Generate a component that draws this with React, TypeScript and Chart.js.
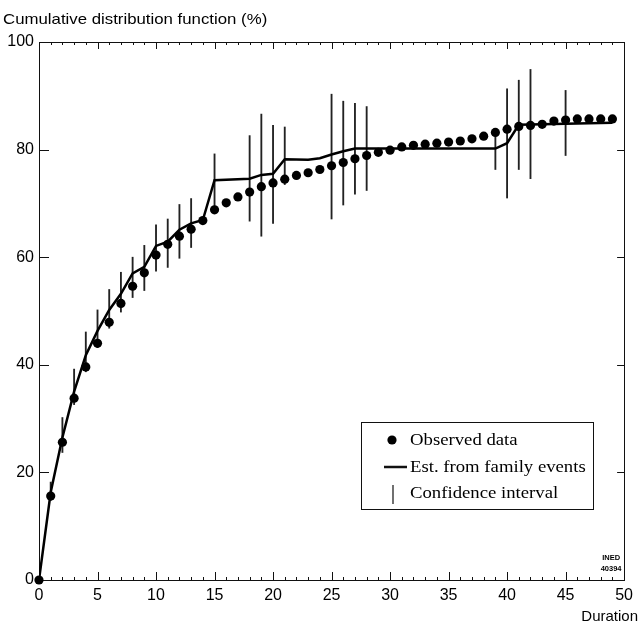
import React, { useEffect, useRef } from 'react';
import { Chart, registerables } from 'chart.js';
Chart.register(...registerables);

const titleText = 'Cumulative distribution function (%)';
const xAxisTitle = 'Duration';
const legendLabels = ['Observed data', 'Est. from family events', 'Confidence interval'];
const stampLines = ['INED', '40394'];

const obsX = [0,1,2,3,4,5,6,7,8,9,10,11,12,13,14,15,16,17,18,19,20,21,22,23,24,25,26,27,28,29,30,31,32,33,34,35,36,37,38,39,40,41,42,43,44,45,46,47,48,49];
const obsY = [0,15.6,25.6,33.8,39.6,44.0,47.9,51.4,54.6,57.1,60.4,62.4,63.9,65.2,66.8,68.8,70.1,71.2,72.1,73.1,73.8,74.5,75.2,75.7,76.3,77.0,77.6,78.3,78.9,79.5,79.9,80.5,80.8,81.0,81.2,81.4,81.6,82.0,82.5,83.2,83.8,84.3,84.5,84.7,85.3,85.5,85.7,85.7,85.7,85.7];

const estX = [0,1,2,3,4,5,6,7,8,9,10,11,12,13,14,15,18,19,20,21,23,24,25,26,27,39,40,41,49];
const estY = [0,16.3,26.5,35.0,41.8,46.3,50.2,53.2,57.0,58.2,62.1,62.9,65.1,66.3,66.9,74.3,74.6,75.3,75.5,78.2,78.1,78.4,79.1,79.7,80.2,80.2,81.2,84.6,85.0];

const ciX = [1,2,3,4,5,6,7,8,9,10,11,12,13,15,18,19,20,21,25,26,27,28,39,40,41,42,45];
const ciLo = [14.8,23.7,32.6,38.7,43.2,46.8,49.8,52.5,53.8,57.4,58.1,59.8,61.8,68.9,66.7,63.9,66.3,73.5,67.1,69.7,71.7,72.4,76.3,71.0,76.3,74.6,78.9];
const ciHi = [18.2,30.2,39.2,46.1,50.2,54.0,57.2,60.0,62.2,66.0,67.1,69.8,70.9,79.2,82.6,86.6,84.5,84.2,90.3,89.0,88.6,88.0,83.8,91.3,92.9,94.9,91.0];

const xMin = 0, xMax = 50, xStep = 5;
const yMin = 0, yMax = 100, yStep = 20;

const SANS = "'Liberation Sans', Arial, sans-serif";
const SERIF = "'Liberation Serif', 'Times New Roman', serif";

const decorPlugin = {
  id: 'decor',
  beforeDatasetsDraw(chart: any) {
    const ctx = chart.ctx;
    const { left, right, top, bottom } = chart.chartArea;
    const xs = chart.scales.x, ys = chart.scales.y;
    ctx.save();
    ctx.strokeStyle = '#111';
    ctx.lineWidth = 1;
    const line = (a: number, b: number, c: number, d: number) => {
      ctx.beginPath(); ctx.moveTo(a, b); ctx.lineTo(c, d); ctx.stroke();
    };
    for (let v = xMin; v <= xMax; v++) {
      const px = Math.round(xs.getPixelForValue(v)) + 0.5;
      const major = v % xStep === 0;
      line(px, bottom, px, bottom - (major ? 8 : 3));
      line(px, top, px, top + (major ? 7 : 3));
    }
    for (let v = yMin + yStep; v < yMax; v += yStep) {
      const py = Math.round(ys.getPixelForValue(v)) + 0.5;
      line(left, py, left + 10, py);
      line(right, py, right - 7, py);
    }
    ctx.strokeRect(Math.round(left) + 0.5, Math.round(top) + 0.5, Math.round(right - left), Math.round(bottom - top));
    ctx.restore();
  },
  afterDraw(chart: any) {
    const ctx = chart.ctx;
    const { right, bottom } = chart.chartArea;
    ctx.save();
    ctx.fillStyle = '#000';
    ctx.font = `15px ${SANS}`;
    ctx.textBaseline = 'alphabetic';
    ctx.textAlign = 'left';
    ctx.save();
    ctx.translate(3, 24);
    ctx.scale(1.12, 1);
    ctx.fillText(titleText, 0, 0);
    ctx.restore();
    ctx.font = `15px ${SANS}`;
    ctx.textAlign = 'right';
    ctx.fillText(xAxisTitle, 638, 621);
    ctx.font = `bold 7.5px ${SANS}`;
    ctx.textAlign = 'center';
    ctx.fillText(stampLines[0], right - 13, bottom - 20);
    ctx.fillText(stampLines[1], right - 13, bottom - 9);
    const bx = 361.5, by = 422.5, bw = 232, bh = 87;
    ctx.fillStyle = '#fff';
    ctx.fillRect(bx, by, bw, bh);
    ctx.strokeStyle = '#111';
    ctx.lineWidth = 1;
    ctx.strokeRect(bx, by, bw, bh);
    ctx.fillStyle = '#000';
    ctx.beginPath(); ctx.arc(392, 440, 4.6, 0, Math.PI * 2); ctx.fill();
    ctx.lineWidth = 2.5;
    ctx.beginPath(); ctx.moveTo(384, 467); ctx.lineTo(407, 467); ctx.stroke();
    ctx.lineWidth = 1.2;
    ctx.beginPath(); ctx.moveTo(393, 485); ctx.lineTo(393, 504); ctx.stroke();
    ctx.font = `16px ${SERIF}`;
    ctx.textAlign = 'left';
    const rows = [440, 467, 493];
    legendLabels.forEach((t, i) => {
      ctx.save();
      ctx.translate(410, rows[i] + 5);
      ctx.scale(1.17, 1);
      ctx.fillText(t, 0, 0);
      ctx.restore();
    });
    ctx.restore();
  },
};

export default function App() {
  const ref = useRef<HTMLCanvasElement | null>(null);
  useEffect(() => {
    if (!ref.current) return;
    const chart = new Chart(ref.current, {
      type: 'scatter',
      data: {
        datasets: [
          {
            type: 'scatter',
            label: legendLabels[0],
            data: obsX.map((x, i) => ({ x, y: obsY[i] })),
            pointRadius: 4.6,
            pointBackgroundColor: '#000',
            pointBorderWidth: 0,
            backgroundColor: '#000',
            clip: false,
            order: 0,
          } as any,
          {
            type: 'line',
            label: legendLabels[1],
            data: estX.map((x, i) => ({ x, y: estY[i] })),
            borderColor: '#000',
            borderWidth: 2.5,
            pointRadius: 0,
            tension: 0,
            fill: false,
            order: 1,
          } as any,
          {
            type: 'bar',
            label: legendLabels[2],
            data: ciX.map((x, i) => ({ x, y: [ciLo[i], ciHi[i]] })),
            backgroundColor: '#222',
            borderWidth: 0,
            barThickness: 1.2,
            grouped: false,
            order: 2,
          } as any,
        ],
      },
      options: {
        responsive: false,
        animation: false,
        layout: { padding: { left: 0, right: 9, top: 42, bottom: 0 } },
        plugins: { legend: { display: false }, tooltip: { enabled: false }, title: { display: false } },
        scales: {
          x: {
            type: 'linear',
            min: xMin,
            max: xMax,
            offset: false,
            grid: { display: false, drawTicks: false },
            border: { display: false },
            ticks: { stepSize: xStep, color: '#000', font: { family: SANS, size: 16 }, padding: 6, maxRotation: 0 },
            afterFit: (s: any) => { s.height = 43; },
          },
          y: {
            type: 'linear',
            min: yMin,
            max: yMax,
            grid: { display: false, drawTicks: false },
            border: { display: false },
            ticks: { stepSize: yStep, color: '#000', font: { family: SANS, size: 16 }, padding: 5 },
            afterFit: (s: any) => { s.width = 39; },
          },
        },
      } as any,
      plugins: [decorPlugin],
    });
    return () => chart.destroy();
  }, []);
  return (
    <div style={{ position: 'absolute', left: 0, top: 0, width: 639, height: 623, background: '#fff' }}>
      <canvas ref={ref} width={639} height={623} />
    </div>
  );
}
